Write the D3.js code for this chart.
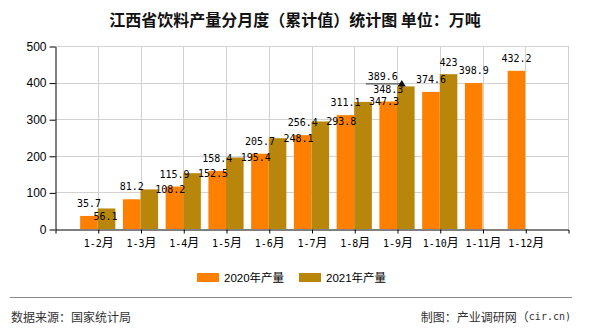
<!DOCTYPE html>
<html><head><meta charset="utf-8">
<script src="https://cdn.jsdelivr.net/npm/d3@7"></script>
<style>
html,body{margin:0;padding:0;background:#fff;}
svg{display:block;}
</style>
</head><body>
<svg id="c" width="590" height="330"></svg>
<script>
const categories = ["1-2月","1-3月","1-4月","1-5月","1-6月","1-7月","1-8月","1-9月","1-10月","1-11月","1-12月"];
const values2020 = [35.7, 81.2, 115.9, 158.4, 205.7, 256.4, 311.1, 348.3, 374.6, 398.9, 432.2];
const values2021 = [56.1, 108.2, 152.5, 195.4, 248.1, 293.8, 347.3, 389.6, 423, null, null];
const seriesNames = ["2020年产量", "2021年产量"];
const yTicks = [0, 100, 200, 300, 400, 500];
const title = "江西省饮料产量分月度（累计值）统计图 单位：万吨";
const sourceText = "数据来源：国家统计局";
const makerText = "制图：产业调研网（";
const makerSite = "cir.cn)";

const colors = ["#ff8000", "#b8860b"];
const svg = d3.select("#c");
const L = 55, R = 568, T = 46, B = 229;
const x = d3.scalePoint().domain(categories).range([L, R]).padding(1);
const y = d3.scaleLinear().domain([0, 500]).range([B, T]);
const bw = 17.6;
const monoFont = "'DejaVu Sans Mono', 'Liberation Mono', monospace";
const cjk = "'Noto Sans CJK SC', sans-serif";

// title
svg.append("text").attr("x", 295).attr("y", 18.5)
  .attr("text-anchor", "middle").attr("dominant-baseline", "central")
  .style("font-family", cjk).style("font-size", "16px").style("font-weight", "bold")
  .style("fill", "#111").text(title);

// grid
const grid = svg.append("g").attr("stroke", "#d2d2d2").attr("stroke-width", 1);
yTicks.filter(d => d > 0).forEach(v => {
  grid.append("line").attr("x1", L).attr("x2", R)
    .attr("y1", Math.round(y(v)) + 0.5).attr("y2", Math.round(y(v)) + 0.5);
});
categories.forEach(c => {
  const xx = Math.round(x(c)) + 0.5;
  grid.append("line").attr("x1", xx).attr("x2", xx).attr("y1", T).attr("y2", B);
});
grid.append("line").attr("x1", R + 0.5).attr("x2", R + 0.5).attr("y1", T).attr("y2", B);

// bars
const data = categories.map((c, i) => ({c, i, a: values2020[i], b: values2021[i]}));
const gb = svg.append("g");
gb.selectAll("rect.a").data(data.filter(d => d.a != null)).enter().append("rect")
  .attr("x", d => x(d.c) - bw).attr("width", bw)
  .attr("y", d => y(d.a)).attr("height", d => y(0) - y(d.a)).attr("fill", colors[0]);
gb.selectAll("rect.b").data(data.filter(d => d.b != null)).enter().append("rect")
  .attr("x", d => x(d.c)).attr("width", bw)
  .attr("y", d => y(d.b)).attr("height", d => y(0) - y(d.b)).attr("fill", colors[1]);

// axes
const yAxis = d3.axisLeft(y).tickValues(yTicks).tickSize(6).tickSizeOuter(0).tickPadding(3);
const gy = svg.append("g").attr("transform", `translate(${L + 0.5},0.5)`).call(yAxis);
gy.selectAll("text").style("font-family", "'Liberation Sans', Arial, sans-serif")
  .style("font-size", "12px").style("fill", "#000");
gy.selectAll("line,path").attr("stroke", "#000");

const xAxis = d3.axisBottom(x).tickSize(4).tickSizeOuter(4).tickPadding(6);
const gx = svg.append("g").attr("transform", `translate(0.5,${B + 0.5})`).call(xAxis);
gx.selectAll("text").each(function(d) {
  const t = d3.select(this).text("");
  t.append("tspan").style("font-family", monoFont).style("font-size", "10px").text(d.replace("月", ""));
  t.append("tspan").style("font-family", cjk).style("font-size", "12px").text("月");
}).style("fill", "#000");
gx.selectAll("line,path").attr("stroke", "#000");

// labels
const gl = svg.append("g").style("font-family", monoFont).style("font-size", "10px").style("fill", "#000")
  .attr("text-anchor", "middle").attr("dominant-baseline", "central");
data.filter(d => d.a != null).forEach(d => {
  gl.append("text").attr("x", x(d.c) - bw / 2).attr("y", y(d.a) - 12.5).text(d.a);
});
const bShift = {0: [-1, 8], 7: [-23, -10], 8: [0, -12]};
data.filter(d => d.b != null).forEach(d => {
  const cx = x(d.c) + bw / 2, ty = y(d.b);
  const off = bShift[d.i] || [21, 0];
  gl.append("text").attr("x", cx + off[0]).attr("y", ty + off[1]).text(d.b);
  if (d.i === 7) {
    const ly = ty - 2.5;
    svg.append("line").attr("x1", cx - 40).attr("x2", cx - 4).attr("y1", ly).attr("y2", ly)
      .attr("stroke", "#333").attr("stroke-width", 1);
    svg.append("path").attr("d", `M${cx - 8},${ly + 2.5} L${cx},${ly + 2.5} L${cx - 4},${ly - 4} Z`)
      .attr("fill", "#111");
  }
});

// legend
const lg = svg.append("g");
[[197, 0], [299, 1]].forEach(([lx, k]) => {
  lg.append("rect").attr("x", lx).attr("y", 273).attr("width", 22).attr("height", 9).attr("fill", colors[k]);
  lg.append("text").attr("x", lx + 27).attr("y", 278).attr("dominant-baseline", "central")
    .style("font-family", "'Liberation Sans', " + cjk).style("font-size", "11.5px").style("fill", "#000")
    .text(seriesNames[k]);
});

// footer
svg.append("line").attr("x1", 10).attr("x2", 572).attr("y1", 297.5).attr("y2", 297.5)
  .attr("stroke", "#888").attr("stroke-width", 1);
svg.append("text").attr("x", 11).attr("y", 316).attr("dominant-baseline", "central")
  .style("font-family", cjk).style("font-size", "12px").style("fill", "#333").text(sourceText);
const ft = svg.append("text").attr("x", 571).attr("y", 316).attr("text-anchor", "end")
  .attr("dominant-baseline", "central").style("font-family", cjk).style("font-size", "12px").style("fill", "#333");
ft.append("tspan").text(makerText);
ft.append("tspan").style("font-family", monoFont).style("font-size", "10px").text(makerSite);
</script>
</body></html>
